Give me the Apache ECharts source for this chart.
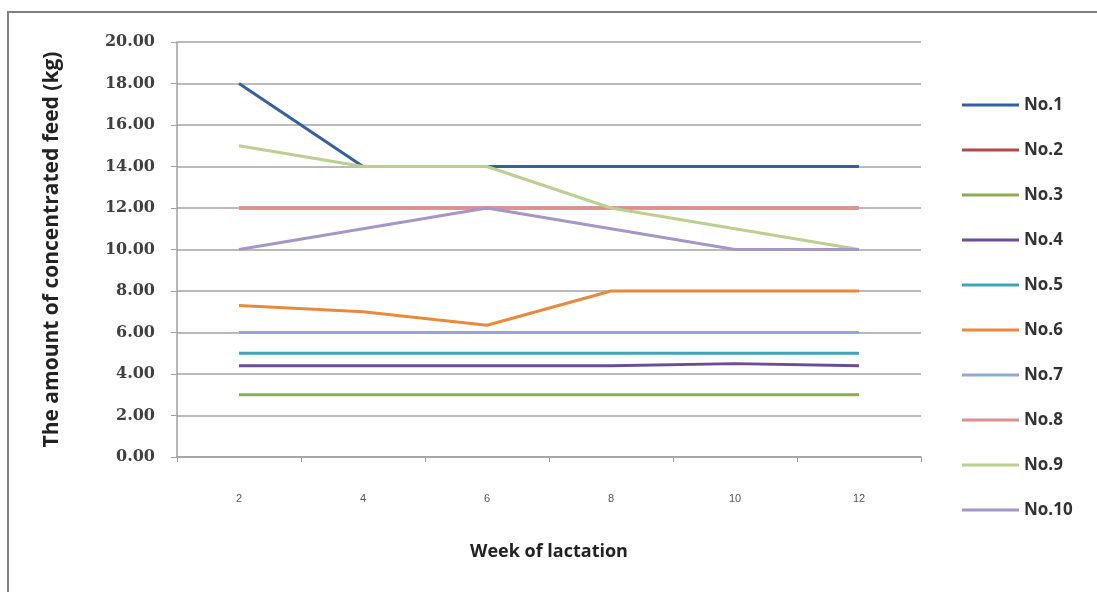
<!DOCTYPE html>
<html>
<head>
<meta charset="utf-8">
<script src="https://cdn.jsdelivr.net/npm/echarts@6/dist/echarts.min.js"></script>
<style>
html,body{margin:0;padding:0;background:#fff;}
#chart{width:1097px;height:592px;}
</style>
</head>
<body>
<div id="chart"></div>
<script>
var weeks = ['2', '4', '6', '8', '10', '12'];
var yTicks = [0, 2, 4, 6, 8, 10, 12, 14, 16, 18, 20];
var seriesNames = ['No.1', 'No.2', 'No.3', 'No.4', 'No.5', 'No.6', 'No.7', 'No.8', 'No.9', 'No.10'];
var no1 = [18, 14, 14, 14, 14, 14];
var no2 = [12, 12, 12, 12, 12, 12];
var no3 = [3, 3, 3, 3, 3, 3];
var no4 = [4.4, 4.4, 4.4, 4.4, 4.5, 4.4];
var no5 = [5, 5, 5, 5, 5, 5];
var no6 = [7.3, 7.0, 6.35, 8, 8, 8];
var no7 = [6, 6, 6, 6, 6, 6];
var no8 = [12, 12, 12, 12, 12, 12];
var no9 = [15, 14, 14, 12, 11, 10];
var no10 = [10, 11, 12, 11, 10, 10];
var seriesData = [no1, no2, no3, no4, no5, no6, no7, no8, no9, no10];
var colors = ['#3560A0', '#B04A48', '#8AAE4E', '#6A4E94', '#3FA3BC', '#E8893C', '#8FA8D6', '#E08F8D', '#B9D08E', '#A497C8'];

var chart = echarts.init(document.getElementById('chart'));
var series = seriesNames.map(function (n, i) {
  return {
    name: n,
    type: 'line',
    data: seriesData[i],
    symbol: 'none',
    lineStyle: { width: 3, color: colors[i] },
    itemStyle: { color: colors[i] },
    z: 2 + i
  };
});
chart.setOption({
  animation: false,
  backgroundColor: '#ffffff',
  graphic: [{
    type: 'rect',
    shape: { x: 8, y: 12, width: 1200, height: 700 },
    style: { fill: 'none', stroke: '#808080', lineWidth: 2 },
    silent: true
  }],
  grid: { left: 177, right: 176, top: 42, bottom: 135 },
  legend: {
    orient: 'vertical',
    left: 957,
    top: 90,
    icon: 'rect',
    itemWidth: 57,
    itemHeight: 3,
    itemGap: 25,
    textStyle: { fontFamily: 'Open Sans', fontWeight: 'bold', fontSize: 17, color: '#333', lineHeight: 20, padding: [0, 0, 0, 0] },
    data: seriesNames
  },
  xAxis: {
    type: 'category',
    data: weeks,
    boundaryGap: true,
    name: 'Week of lactation',
    nameLocation: 'middle',
    nameGap: 86,
    nameTextStyle: { fontFamily: 'Open Sans', fontWeight: 'bold', fontSize: 18, color: '#222' },
    axisLine: { lineStyle: { color: '#a0a0a0', width: 1.5 } },
    axisTick: { show: true, length: 5, lineStyle: { color: '#a0a0a0' } },
    axisLabel: { margin: 36, fontFamily: 'Liberation Sans', fontSize: 11, color: '#555' }
  },
  yAxis: {
    type: 'value',
    min: 0,
    max: 20,
    interval: 2,
    name: 'The amount of concentrated feed (kg)',
    nameLocation: 'middle',
    nameGap: 114,
    nameTextStyle: { fontFamily: 'Open Sans', fontWeight: 'bold', fontSize: 21, color: '#222' },
    axisLine: { show: true, lineStyle: { color: '#a0a0a0', width: 1.5 } },
    axisTick: { show: true, length: 6, lineStyle: { color: '#a0a0a0' } },
    axisLabel: {
      margin: 22,
      fontFamily: 'DejaVu Serif',
      fontWeight: 'bold',
      fontSize: 16,
      color: '#404040',
      formatter: function (v) { return yTicks.indexOf(v) >= 0 ? v.toFixed(2) : ''; }
    },
    splitLine: { lineStyle: { color: '#a3a3a3', width: 1.5 } }
  },
  series: series
});
</script>
</body>
</html>
